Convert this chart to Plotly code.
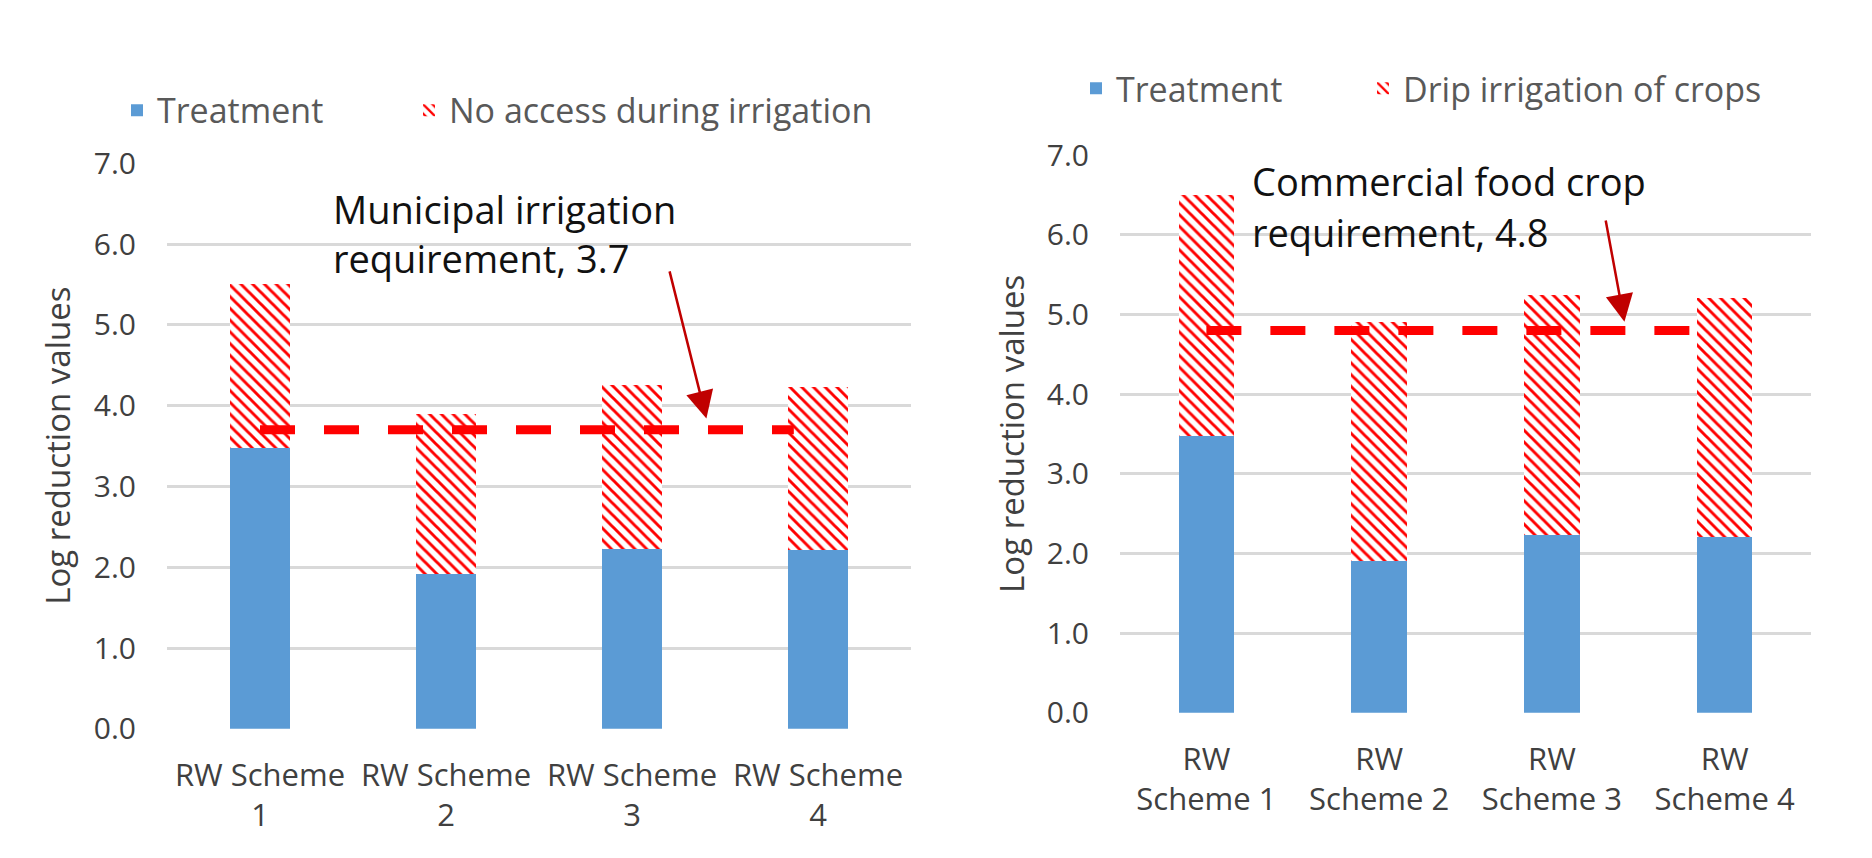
#!/usr/bin/env python3
"""
Log reduction values per recycled water scheme: treatment + on-site controls,
compared with the municipal irrigation and commercial food crop requirements.
"""

import plotly.graph_objects as go

# ---- data ----
schemes_left = ["RW Scheme<br>1", "RW Scheme<br>2", "RW Scheme<br>3", "RW Scheme<br>4"]
schemes_right = ["RW<br>Scheme 1", "RW<br>Scheme 2", "RW<br>Scheme 3", "RW<br>Scheme 4"]
scheme_pos = [0, 1, 2, 3]

treatment = [3.48, 1.91, 2.23, 2.21]
no_access = [2.02, 1.99, 2.02, 2.02]   # no access during irrigation
drip = [3.02, 3.0, 3.02, 3.0]          # drip irrigation of crops

municipal_req = 3.7
food_crop_req = 4.8
req_span_left = [0, 2.87]
req_span_right = [0, 2.84]

y_ticks = [0, 1, 2, 3, 4, 5, 6, 7]

BLUE = "#5B9BD5"
RED = "#FF0000"
DARKRED = "#C00000"
GRID = "#D9D9D9"
FONT = "Open Sans"

W, H = 1872, 858


def px(x):
    return x / W


def py(y):
    return 1 - y / H


print("Building figure...")
fig = go.Figure()

hatch = dict(shape="\\", fgcolor=RED, bgcolor="white", size=8.3,
             solidity=0.35, fillmode="replace")

# left panel
fig.add_trace(go.Bar(x=scheme_pos, y=treatment, name="Treatment",
                     marker=dict(color=BLUE, line=dict(width=0)),
                     xaxis="x", yaxis="y", legend="legend"))
fig.add_trace(go.Bar(x=scheme_pos, y=no_access, name="No access during irrigation",
                     marker=dict(color="white", line=dict(width=0), pattern=hatch),
                     xaxis="x", yaxis="y", legend="legend3"))
fig.add_trace(go.Scatter(x=req_span_left, y=[municipal_req] * 2, mode="lines",
                         line=dict(color=RED, width=9, dash="35px,29px"),
                         showlegend=False, xaxis="x", yaxis="y"))

# right panel
fig.add_trace(go.Bar(x=scheme_pos, y=treatment, name="Treatment",
                     marker=dict(color=BLUE, line=dict(width=0)),
                     xaxis="x2", yaxis="y2", legend="legend2"))
fig.add_trace(go.Bar(x=scheme_pos, y=drip, name="Drip irrigation of crops",
                     marker=dict(color="white", line=dict(width=0), pattern=hatch),
                     xaxis="x2", yaxis="y2", legend="legend4"))
fig.add_trace(go.Scatter(x=req_span_right, y=[food_crop_req] * 2, mode="lines",
                         line=dict(color=RED, width=9, dash="35px,29px"),
                         showlegend=False, xaxis="x2", yaxis="y2"))

xaxis_common = dict(range=[-0.5, 3.5], tickvals=scheme_pos, showgrid=False,
                    zeroline=False, showline=False, ticks="",
                    tickfont=dict(family=FONT, size=31, color="#404040"),
                    ticklabelstandoff=25, fixedrange=True)
yaxis_common = dict(range=[0, 7], tickvals=y_ticks, tickformat=".1f",
                    showgrid=True, gridcolor=GRID, gridwidth=2.5,
                    zeroline=False, showline=False, ticks="",
                    tickfont=dict(family=FONT, size=30, color="#404040"),
                    ticklabelstandoff=30, fixedrange=True)

legend_common = dict(orientation="h", xanchor="left", yanchor="middle",
                     bgcolor="rgba(0,0,0,0)",
                     font=dict(family=FONT, size=34, color="#595959"))


def req_label(text, x, y):
    return dict(text=text, x=px(x), y=py(y), xref="paper", yref="paper",
                xanchor="left", yanchor="middle", showarrow=False,
                font=dict(family=FONT, size=38, color="#111111"))


def y_title(x, y):
    return dict(text="Log reduction values", x=px(x), y=py(y), xref="paper", yref="paper",
                textangle=-90, showarrow=False, xanchor="center", yanchor="middle",
                font=dict(family=FONT, size=33, color="#404040"))


fig.update_layout(
    width=W,
    height=H,
    margin=dict(l=0, r=0, t=0, b=0),
    paper_bgcolor="white",
    plot_bgcolor="white",
    barmode="stack",
    bargap=0.68,
    font=dict(family=FONT),
    xaxis=dict(domain=[px(167), px(911)], ticktext=schemes_left, anchor="y", **xaxis_common),
    yaxis=dict(domain=[py(742.3), py(148.3)], anchor="x", **yaxis_common),
    xaxis2=dict(domain=[px(1120), px(1811)], ticktext=schemes_right, anchor="y2", **xaxis_common),
    yaxis2=dict(domain=[py(725.3), py(140)], anchor="x2", **yaxis_common),
    legend=dict(x=px(117), y=py(93), **legend_common),
    legend3=dict(x=px(409), y=py(93), **legend_common),
    legend2=dict(x=px(1076), y=py(70), **legend_common),
    legend4=dict(x=px(1363), y=py(70), **legend_common),
    annotations=[
        req_label("Municipal irrigation", 331, 196),
        req_label("requirement, 3.7", 331, 248),
        req_label("Commercial food crop", 1250, 167),
        req_label("requirement, 4.8", 1250, 221),
        # arrows pointing at the requirement lines
        dict(x=2.40, y=3.84, ax=2.20, ay=5.68, xref="x", yref="y", axref="x", ayref="y",
             text="", showarrow=True, arrowhead=2, arrowsize=2.2, arrowwidth=2.5,
             arrowcolor=DARKRED, standoff=0),
        dict(x=2.42, y=4.91, ax=2.31, ay=6.20, xref="x2", yref="y2", axref="x2", ayref="y2",
             text="", showarrow=True, arrowhead=2, arrowsize=2.2, arrowwidth=2.5,
             arrowcolor=DARKRED, standoff=0),
        y_title(58, 445),
        y_title(1012, 432.6),
    ],
)

# drop the default body margin so the 1872x858 figure fills the window exactly
fig.write_html("out.html",
               config={"displayModeBar": False},
               post_script=("document.body.style.margin='0';"
                            "document.documentElement.style.overflow='hidden';"))
print("Saved out.html")
